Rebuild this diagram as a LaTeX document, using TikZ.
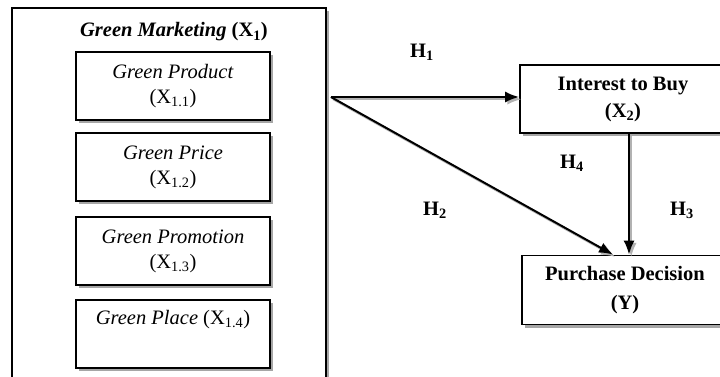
\documentclass[tikz,border=0pt]{standalone}
\usepackage{fontspec}
\setmainfont{Liberation Serif}
\usetikzlibrary{positioning,shadows,arrows.meta}

\newcommand{\diafont}{\fontsize{20.5}{25}\selectfont}

\tikzset{
  box/.style={draw, line width=1.8pt, fill=white,
    drop shadow={shadow xshift=3pt, shadow yshift=-3pt, fill=gray!70, opacity=1}},
  sub/.style={box, minimum width=194, minimum height=68, align=center, font=\diafont},
  var/.style={box, minimum width=206, minimum height=68, align=center, font=\diafont\bfseries},
  arr/.style={-{Latex[length=14pt,width=11pt]}, line width=2pt,
    preaction={draw=gray!60, line width=2pt, transform canvas={shift={(2.2pt,-2.2pt)}}}},
  hyp/.style={font=\diafont\bfseries}
}

\begin{document}
\begin{tikzpicture}[x=1pt,y=-1pt]
        % visible area
        \clip (0,0) rectangle (720,377);

        % outer frame with its title
        \node[box, minimum width=314, minimum height=386] (gm) at (169,201) {};
        \node[hyp] (title) at (174,32) {\textit{Green Marketing} (X\textsubscript{1})};

        % the four indicators
        \foreach \y/\n/\txt in {86/1/Green Product, 167/2/Green Price, 251/3/Green Promotion}
                \node[sub] (x\n) at (173,\y) {\textit{\txt}\\(X\textsubscript{1.\n})};
        \node[sub] (x4) at (173,334) {\textit{Green Place} (X\textsubscript{1.4})\\ \strut};

        % the two dependent variables
        \node[var] (ib) at (623,99) {Interest to Buy\\[2pt](X\textsubscript{2})};
        \node[var, minimum height=69] (pd) at (625,290) {Purchase Decision\\[4pt](Y)};

        % arrows
        \coordinate (src) at ([xshift=4pt,yshift=2pt]gm.east |- ib.west);
        \draw[arr] (src) -- (src -| ib.west);
        \draw[arr] (src) -- ([xshift=-12pt]pd.north);
        \draw[arr] ([xshift=6pt]ib.south) -- ([xshift=6pt]ib.south |- pd.north);

        % hypotheses
        \foreach \x/\y/\n in {422/52/1, 435/210/2, 682/210/3, 572/163/4}
                \node[hyp] (h\n) at (\x,\y) {H\textsubscript{\n}};
\end{tikzpicture}
\end{document}
